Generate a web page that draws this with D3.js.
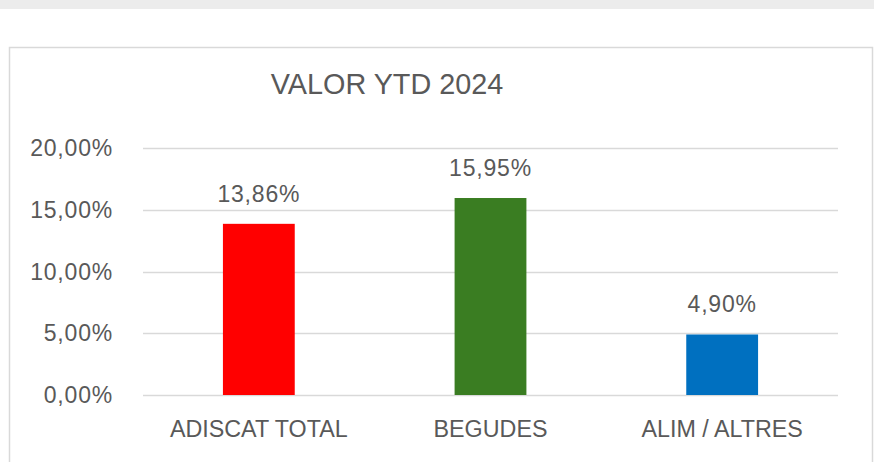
<!DOCTYPE html>
<html>
<head>
<meta charset="utf-8">
<script src="https://cdn.jsdelivr.net/npm/d3@7"></script>
<style>
  html, body { margin: 0; padding: 0; background: #fff; }
  text { font-family: "Liberation Sans", Arial, sans-serif; fill: #595959; }
</style>
</head>
<body>
<div id="root"></div>
<script>
var categories = ['ADISCAT TOTAL', 'BEGUDES', 'ALIM / ALTRES'];
var values = [13.86, 15.95, 4.90];
var colors = ['#ff0000', '#3a7d22', '#0070c0'];
var ticks = [0, 5, 10, 15, 20];

var w = 874, h = 462;
var fmt = function(v) { return v.toFixed(2).replace('.', ',') + '%'; };

var svg = d3.select('#root').append('svg')
  .attr('width', w)
  .attr('height', h);

// grey strip on top + chart frame
svg.append('rect').attr('x', 0).attr('y', 0).attr('width', w).attr('height', 9).attr('fill', '#ececec');
svg.append('rect').attr('x', 9.5).attr('y', 47.5).attr('width', 863).attr('height', 430)
  .attr('fill', '#fff').attr('stroke', '#d9d9d9').attr('stroke-width', 1.5);

var x = d3.scaleBand()
  .domain(categories)
  .range([143, 838])
  .paddingInner(0.69)
  .paddingOuter(0.345);

var y = d3.scaleLinear()
  .domain([0, 20])
  .range([395, 148]);

// gridlines
svg.append('g')
  .selectAll('line')
  .data(ticks)
  .enter()
  .append('line')
  .attr('x1', 143)
  .attr('x2', 838)
  .attr('y1', function(d) { return Math.round(y(d)) + 0.5; })
  .attr('y2', function(d) { return Math.round(y(d)) + 0.5; })
  .attr('stroke', '#d9d9d9')
  .attr('stroke-width', 1.5);

// y tick labels
svg.append('g')
  .selectAll('text')
  .data(ticks)
  .enter()
  .append('text')
  .attr('x', 113)
  .attr('y', function(d) { return y(d) + 8; })
  .attr('text-anchor', 'end')
  .style('font-size', '23px')
  .style('letter-spacing', '0.8px')
  .text(fmt);

// bars
svg.append('g')
  .selectAll('rect')
  .data(values)
  .enter()
  .append('rect')
  .attr('x', function(d, i) { return x(categories[i]); })
  .attr('y', function(d) { return y(d); })
  .attr('width', x.bandwidth())
  .attr('height', function(d) { return y(0) - y(d); })
  .attr('fill', function(d, i) { return colors[i]; });

// value labels
svg.append('g')
  .selectAll('text')
  .data(values)
  .enter()
  .append('text')
  .attr('x', function(d, i) { return x(categories[i]) + x.bandwidth() / 2; })
  .attr('y', function(d) { return y(d) - 22; })
  .attr('text-anchor', 'middle')
  .style('font-size', '23px')
  .style('letter-spacing', '0.8px')
  .text(fmt);

// category labels
svg.append('g')
  .selectAll('text')
  .data(categories)
  .enter()
  .append('text')
  .attr('x', function(d) { return x(d) + x.bandwidth() / 2; })
  .attr('y', 437)
  .attr('text-anchor', 'middle')
  .style('font-size', '23.3px')
  .text(function(d) { return d; });

// title
svg.append('text')
  .attr('x', 387)
  .attr('y', 94)
  .attr('text-anchor', 'middle')
  .style('font-size', '28.8px')
  .text('VALOR YTD 2024');
</script>
</body>
</html>
